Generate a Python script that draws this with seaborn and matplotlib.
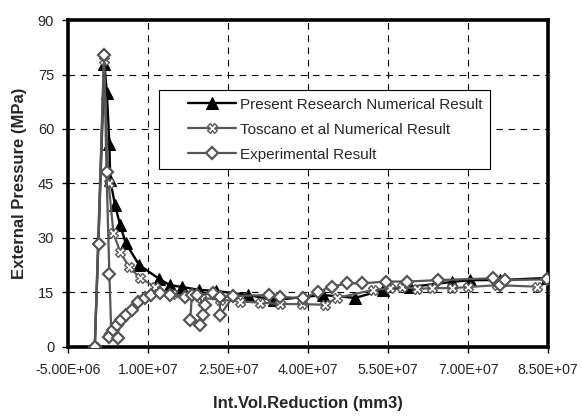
import matplotlib
matplotlib.use("Agg")
import matplotlib.pyplot as plt
from matplotlib.lines import Line2D
from matplotlib.legend_handler import HandlerLine2D
import seaborn as sns
import numpy as np

# Present Research Numerical Result
present_x = [0, 1.8, 2.26, 2.74, 2.9, 3.8, 4.75, 5.8, 8.3, 12.1, 14.1, 16.4, 19.6, 22.8, 28.75,
             33.6, 42.8, 48.8, 54.1, 59.1, 67.0, 70.4, 76.0, 84.8]
present_y = [0, 78, 70, 56, 46, 39, 33.6, 28.6, 22.6, 18.7, 17, 16.5, 15.7, 15.4, 14.3,
             12.9, 14.3, 13.5, 15.7, 16.5, 17.9, 18.4, 18.4, 19]

# Toscano et al Numerical Result
toscano_x = [0, 1.7, 2.6, 3.5, 4.75, 6.4, 8.5, 11.3, 14.5, 20.0, 23.5, 27.2, 31.0, 34.75, 38.8,
             43.2, 45.4, 52.2, 55.4, 57.6, 60.4, 63.2, 66.9, 70.0, 75.4, 82.9]
toscano_y = [0, 79, 45, 31.3, 26.2, 22, 19, 16.5, 14.5, 13.5, 13, 12.5, 12.2, 11.8, 11.8,
             11.6, 13.5, 15.7, 16.2, 16.5, 16, 16.2, 16.2, 16.5, 17, 16.6]

# Experimental Result
exp_x = [0, 0.7, 1.75, 2.2, 2.74, 3.1, 2.6, 3.4, 4.4, 4.2, 5.0, 5.9, 6.9, 8.1, 9.4, 10.6, 12.2,
         14.1, 16.9, 18.2, 17.9, 19.8, 20.3, 20.7, 19.1, 22.2, 23.4, 23.5, 26.0, 32.6, 34.75,
         39.1, 41.9, 44.4, 47.3, 50.0, 54.6, 58.5, 64.4, 74.7, 75.9, 76.9, 84.75]
exp_y = [0, 28.3, 80.4, 48.2, 20, 3.5, 2.8, 4.7, 2.5, 6.0, 7.4, 8.8, 10.2, 12.5, 13.4, 14.3, 14.8,
         14.3, 13.7, 14.3, 7.4, 6.1, 8.8, 11.6, 14.3, 14.8, 13.8, 8.8, 14, 14.3, 13.8,
         13.4, 15.2, 16.6, 17.5, 17.5, 18, 18, 18.4, 18.9, 17, 18.4, 18.6]

x_ticks = [-5e6, 1e7, 2.5e7, 4e7, 5.5e7, 7e7, 8.5e7]
y_ticks = [0, 15, 30, 45, 60, 75, 90]

sns.set_style("white")
plt.rcParams['font.family'] = ['Liberation Sans', 'DejaVu Sans']

fig = plt.figure(figsize=(5.82, 4.17), dpi=100)
ax = fig.add_axes([0.117, 0.168, 0.825, 0.784])

ax.grid(True, color='black', linestyle=(0, (6, 5)), linewidth=0.8)
ax.set_axisbelow(True)

sns.lineplot(x=np.array(present_x) * 1e6, y=present_y, sort=False, estimator=None, ax=ax,
             color='black', linewidth=1.7, marker='^', markersize=8.5, markerfacecolor='black',
             markeredgecolor='black', label='Present Research Numerical Result', zorder=3)
sns.lineplot(x=np.array(toscano_x) * 1e6, y=toscano_y, sort=False, estimator=None, ax=ax,
             color='#5a5a5a', linewidth=1.6, marker='X', markersize=7, markerfacecolor='white',
             markeredgecolor='#5a5a5a', markeredgewidth=1.0,
             label='Toscano et al Numerical Result', zorder=4)
sns.lineplot(x=np.array(exp_x) * 1e6, y=exp_y, sort=False, estimator=None, ax=ax,
             color='#555555', linewidth=1.6, marker='D', markersize=6.5, markerfacecolor='white',
             markeredgecolor='#555555', markeredgewidth=1.6,
             label='Experimental Result', zorder=5)

ax.set_xlim(-5e6, 8.5e7)
ax.set_ylim(0, 90)
ax.set_xticks(x_ticks)
ax.set_xticklabels(['{:.2E}'.format(v) for v in x_ticks], fontsize=10.2)
ax.set_yticks(y_ticks)
ax.set_yticklabels([str(v) for v in y_ticks], fontsize=10.5)
ax.tick_params(axis='both', direction='out', length=4, width=1, color='black', bottom=True, left=True)
ax.tick_params(axis='x', pad=7.5)
ax.tick_params(axis='y', pad=6)

for s in ax.spines.values():
    s.set_linewidth(2.6)
    s.set_color('black')

ax.set_xlabel('Int.Vol.Reduction (mm3)', fontsize=12, fontweight='bold', labelpad=14)
ax.set_ylabel('External Pressure (MPa)', fontsize=12, fontweight='bold', labelpad=8)

leg = ax.legend(loc='upper left', bbox_to_anchor=(0.19, 0.786), borderaxespad=0, fontsize=11,
                frameon=True, fancybox=False, edgecolor='black', framealpha=1, handlelength=4.5,
                borderpad=0.5, labelspacing=0.72, handletextpad=0.3,
                handler_map={Line2D: HandlerLine2D(xpad=1.4)})
leg.get_frame().set_linewidth(0.8)

fig.savefig('out.png', dpi=100)
